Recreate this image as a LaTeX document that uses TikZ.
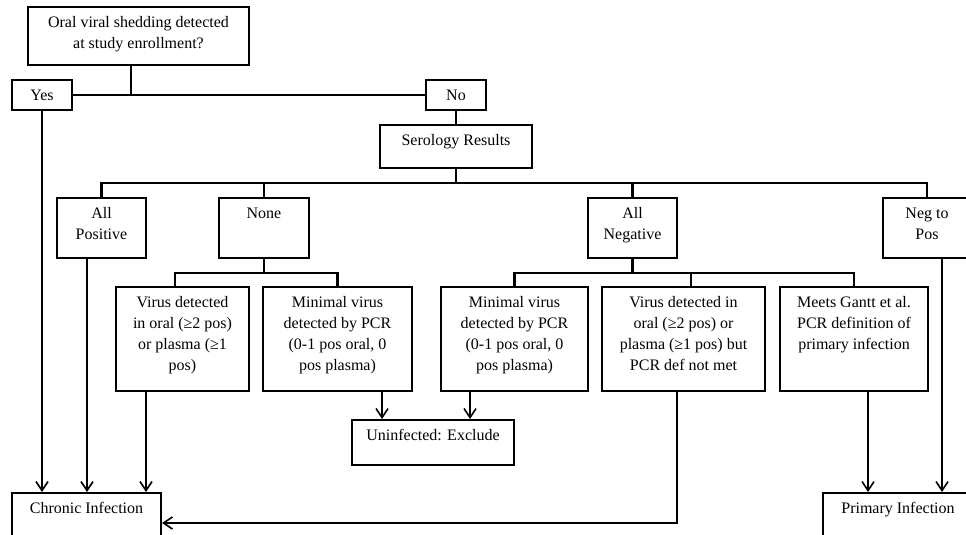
\documentclass[tikz,border=0pt]{standalone}
\usepackage{fontspec}
\setmainfont{Liberation Serif}
\usetikzlibrary{arrows.meta}
\tikzset{
  flowbox/.style={draw, line width=2pt, rectangle, inner sep=0pt},
  flowtext/.style={align=center, inner sep=0pt, anchor=north},
  link/.style={line width=2.2pt},
  arr/.style={line width=1.6pt, -{Straight Barb[length=9pt,width=12pt,line width=1.6pt]}},
}
\newcommand\drawbox[6]{%
  \node[flowbox, minimum width={#4pt-#2pt}, minimum height={#5pt-#3pt}] (#1) at ({(#2+#4)/2},{(#3+#5)/2}) {};
  \node[flowtext] (#1-t) at ([yshift=-7pt]#1.north) {\strut #6};
}
\begin{document}
\begin{tikzpicture}[x=1pt,y=-1pt,font=\fontsize{16}{21}\selectfont]
\useasboundingbox (0,0) rectangle (966,535);
\clip (0,0) rectangle (966,535);
% boxes
\drawbox{q}{28}{7}{249}{65}{Oral viral shedding detected\\at study enrollment?}
\drawbox{yes}{12}{80}{72}{110}{Yes}
\drawbox{no}{426}{80}{486}{110}{No}
\drawbox{sero}{380}{125}{532}{168}{Serology Results}
\drawbox{allpos}{57}{198}{146}{258}{All\\Positive}
\drawbox{none}{219}{198}{309}{258}{None}
\drawbox{allneg}{588}{198}{677}{258}{All\\Negative}
\drawbox{negpos}{883}{198}{971}{258}{Neg to\\Pos}
\drawbox{v1}{116}{287}{249}{391}{Virus detected\\in oral (≥2 pos)\\or plasma (≥1\\pos)}
\drawbox{m1}{263}{287}{412}{391}{Minimal virus\\detected by PCR\\(0-1 pos oral, 0\\pos plasma)}
\drawbox{m2}{441}{287}{588}{391}{Minimal virus\\detected by PCR\\(0-1 pos oral, 0\\pos plasma)}
\drawbox{v2}{602}{287}{765}{391}{Virus detected in\\oral (≥2 pos) or\\plasma (≥1 pos) but\\PCR def not met}
\drawbox{gantt}{780}{287}{928}{391}{Meets Gantt et al.\\PCR definition of\\primary infection}
\drawbox{unin}{352}{420}{514}{465}{Uninfected: Exclude}
\drawbox{chronic}{12}{493}{161}{550}{Chronic Infection}
\drawbox{primary}{823}{493}{973}{550}{Primary Infection}
% junction coordinates
\coordinate (jq) at (131,95);
\coordinate (b1L) at (101,183);
\coordinate (b1R) at (927,183);
\coordinate (b2L) at (175,273);
\coordinate (b3L) at (514.5,273);
\coordinate (b3M) at (691,273);
\coordinate (a2) at (87,0);
\coordinate (a3) at (146,0);
\coordinate (a4) at (382,0);
\coordinate (a5) at (470,0);
\coordinate (a6) at (677,523);
\coordinate (a7) at (868,0);
\coordinate (a8) at (942,0);
% tree links
\draw[link] (q.south -| jq) -- (jq);
\draw[link] (yes.east) -- (no.west);
\draw[link] (no.south) -- (sero.north);
\draw[link] (sero.south) -- (sero.south |- b1L);
\draw[link] (allpos.north) -- (allpos.north |- b1L) -- (b1R) -- (negpos.north);
\draw[link] (none.north) -- (none.north |- b1L);
\draw[link] (allneg.north) -- (allneg.north |- b1L);
\draw[link] (none.south) -- (none.south |- b2L);
\draw[link] (v1.north -| b2L) -- (b2L) -- (m1.north |- b2L) -- (m1.north);
\draw[link] (allneg.south) -- (allneg.south |- b3L);
\draw[link] (m2.north) -- (m2.north |- b3L) -- (gantt.north |- b3L) -- (gantt.north);
\draw[link] (b3M) -- (v2.north -| b3M);
% arrows
\draw[arr] (yes.south) -- (chronic.north -| yes.south);
\draw[arr] (allpos.south -| a2) -- (chronic.north -| a2);
\draw[arr] (v1.south -| a3) -- (chronic.north -| a3);
\draw[arr] (m1.south -| a4) -- (unin.north -| a4);
\draw[arr] (m2.south -| a5) -- (unin.north -| a5);
\draw[arr] (v2.south -| a6) -- (a6) -- (chronic.east |- a6);
\draw[arr] (gantt.south -| a7) -- (primary.north -| a7);
\draw[arr] (negpos.south -| a8) -- (primary.north -| a8);
\end{tikzpicture}
\end{document}
